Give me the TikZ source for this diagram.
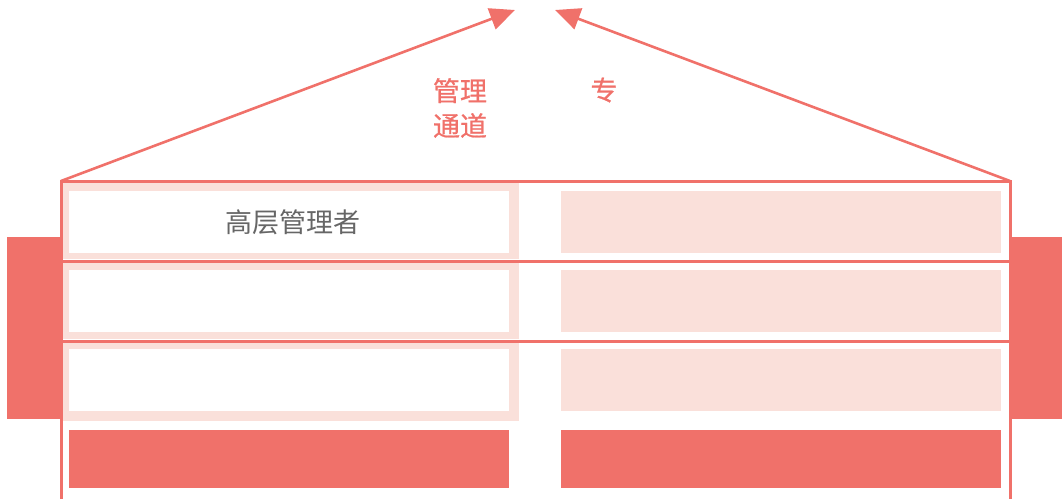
\documentclass[tikz,border=0pt]{standalone}
\usepackage{fontspec}
\newfontfamily\cjk{Noto Sans CJK SC}
\newfontfamily\cjkmed{Noto Sans CJK SC}[FakeBold=0.7]
\usetikzlibrary{arrows.meta}
\definecolor{cred}{HTML}{F0716A}
\definecolor{cpink}{HTML}{FAE0DA}
\definecolor{cgray}{HTML}{666666}
\begin{document}
\begin{tikzpicture}[x=1pt,y=-1pt,
  box/.style={rectangle,inner sep=0pt,outer sep=0pt,draw=none},
  redline/.style={draw=cred,line width=3pt},
  arr/.style={draw=cred,line width=2.6pt,-{Triangle[length=25pt,width=22pt]}},
  title/.style={text=cred,font=\cjkmed\fontsize{27}{35}\selectfont,align=center,inner sep=0pt}]
\useasboundingbox (0,0) rectangle (1062,499);
% side bars
\node[box,fill=cred,minimum width=53pt,minimum height=182pt,anchor=north west] (lbar) at (7,237) {};
\node[box,fill=cred,minimum width=53pt,minimum height=182pt,anchor=north west] (rbar) at (1009,237) {};
% left pink frames
\node[box,fill=cpink,minimum width=457pt,minimum height=77pt,anchor=north west] (lf1) at (62,182) {};
\node[box,fill=cpink,minimum width=457pt,minimum height=77pt,anchor=north west] (lf2) at (62,262) {};
\node[box,fill=cpink,minimum width=457pt,minimum height=79pt,anchor=north west] (lf3) at (62,342) {};
% left white boxes
\node[box,fill=white,minimum width=440pt,minimum height=62pt,anchor=north west] (l1) at (69,191) {};
\node[box,fill=white,minimum width=440pt,minimum height=62pt,anchor=north west] (l2) at (69,270) {};
\node[box,fill=white,minimum width=440pt,minimum height=62pt,anchor=north west] (l3) at (69,349) {};
\node[text=cgray,font=\cjk\fontsize{27}{30}\selectfont,inner sep=0pt] (t1) at (293,222) {高层管理者};
% right pink boxes
\node[box,fill=cpink,minimum width=440pt,minimum height=62pt,anchor=north west] (r1) at (561,191) {};
\node[box,fill=cpink,minimum width=440pt,minimum height=62pt,anchor=north west] (r2) at (561,270) {};
\node[box,fill=cpink,minimum width=440pt,minimum height=62pt,anchor=north west] (r3) at (561,349) {};
% bottom red boxes
\node[box,fill=cred,minimum width=440pt,minimum height=58pt,anchor=north west] (l4) at (69,430) {};
\node[box,fill=cred,minimum width=440pt,minimum height=58pt,anchor=north west] (r4) at (561,430) {};
% frame lines
\coordinate (tl) at (61,181);
\coordinate (tr) at (1010,181);
\coordinate (bl) at (61,499);
\coordinate (br) at (1010,499);
\coordinate (m1l) at (61,261);
\coordinate (m1r) at (1010,261);
\coordinate (m2l) at (61,341);
\coordinate (m2r) at (1010,341);
\draw[redline] (bl) -- (tl) -- (tr) -- (br);
\draw[redline] (m1l) -- (m1r);
\draw[redline] (m2l) -- (m2r);
% arrows
\coordinate (tipl) at (515,10);
\coordinate (tipr) at (555,10);
\draw[arr] (tl) -- (tipl);
\draw[arr] (tr) -- (tipr);
% titles
\node[title] (h1) at (460,108) {管理\\通道};
\node[title] (h2) at (604,90) {专};
\end{tikzpicture}
\end{document}
